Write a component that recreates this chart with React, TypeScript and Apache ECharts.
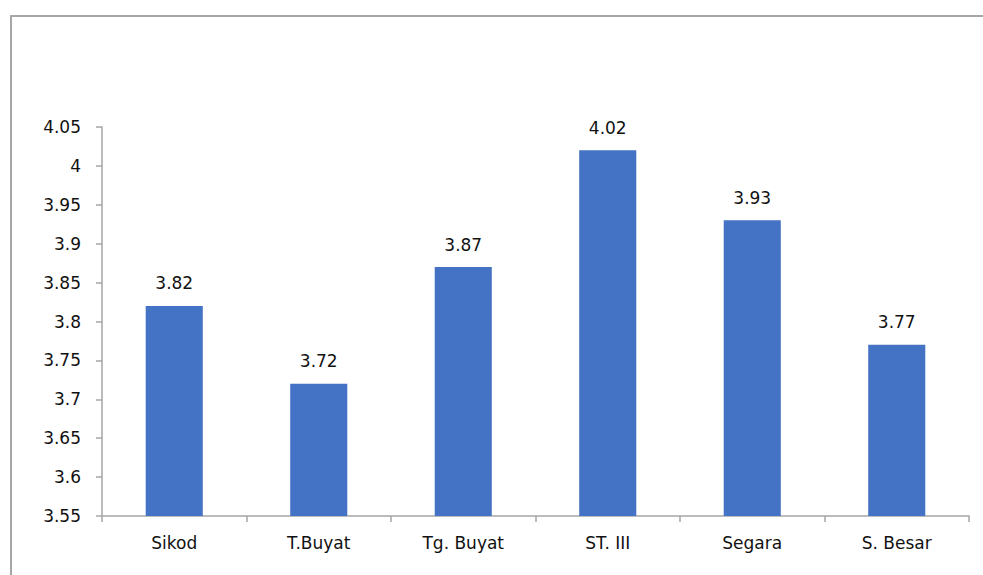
import React, { useEffect, useRef } from "react";
import * as echarts from "echarts";

const categories = ["Sikod", "T.Buyat", "Tg. Buyat", "ST. III", "Segara", "S. Besar"];
const values = [3.82, 3.72, 3.87, 4.02, 3.93, 3.77];
const yMin = 3.55;
const yMax = 4.05;
const yStep = 0.05;

export default function App() {
  const ref = useRef<HTMLDivElement>(null);
  useEffect(() => {
    if (!ref.current) return;
    const chart = echarts.init(ref.current, undefined, { renderer: "svg" });
    const font = "'DejaVu Sans', Verdana, sans-serif";
    const borderStyle = { stroke: "#a6a6a6", lineWidth: 2 };
    chart.setOption({
      animation: false,
      backgroundColor: "#ffffff",
      grid: { left: 102, right: 14, top: 127, bottom: 59, containLabel: false },
      graphic: [
        {
          type: "line",
          shape: { x1: 10, y1: 16, x2: 990, y2: 16 },
          style: borderStyle,
          silent: true,
        },
        {
          type: "line",
          shape: { x1: 11, y1: 15, x2: 11, y2: 580 },
          style: borderStyle,
          silent: true,
        },
      ],
      xAxis: {
        type: "category",
        data: categories,
        axisLine: { show: true, lineStyle: { color: "#a6a6a6", width: 1.5 } },
        axisTick: { show: true, length: 6, lineStyle: { color: "#a6a6a6", width: 1.5 } },
        axisLabel: { color: "#111", fontSize: 17, fontFamily: font, margin: 18 },
        splitLine: { show: false },
      },
      yAxis: {
        type: "value",
        min: yMin,
        max: yMax,
        interval: yStep,
        axisLine: { show: true, lineStyle: { color: "#a6a6a6", width: 1.5 } },
        axisTick: { show: true, length: 6, lineStyle: { color: "#a6a6a6", width: 1.5 } },
        axisLabel: {
          color: "#111",
          fontSize: 17,
          fontFamily: font,
          margin: 21,
          formatter: (v: number) => String(parseFloat(v.toFixed(2))),
        },
        splitLine: { show: false },
      },
      series: [
        {
          type: "bar",
          data: values,
          barWidth: "39.5%",
          itemStyle: { color: "#4472C4" },
          label: {
            show: true,
            position: "top",
            distance: 14,
            color: "#111",
            fontSize: 17,
            fontFamily: font,
            formatter: (p: any) => p.value.toFixed(2),
          },
        },
      ],
    });
    return () => chart.dispose();
  }, []);
  return (
    <div
      ref={ref}
      style={{ position: "fixed", left: 0, top: 0, width: 983, height: 575 }}
    />
  );
}
